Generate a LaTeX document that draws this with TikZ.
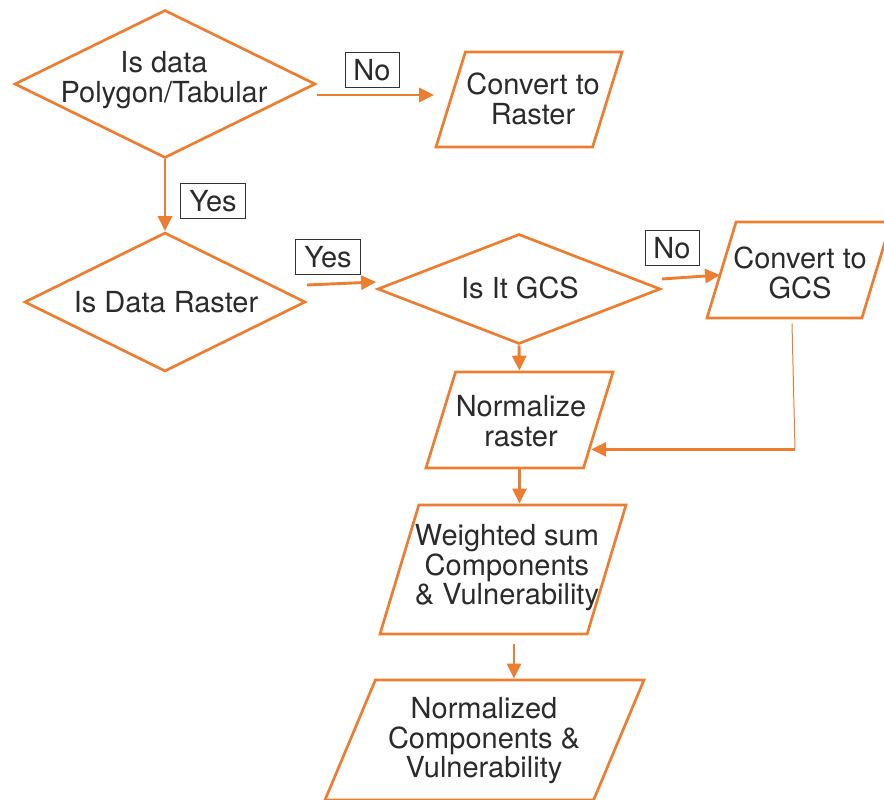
\documentclass[tikz,border=0pt]{standalone}
\usepackage{fontspec}
\setmainfont{TeX Gyre Heros}
\usepackage{xcolor}
\usepackage{tikz}
\usetikzlibrary{shapes.geometric,arrows.meta,calc}

\definecolor{flow}{HTML}{ED7D31}
\definecolor{ink}{HTML}{2B2B2B}

\tikzset{
  decision/.style={diamond, draw=flow, line width=2.7pt, inner sep=0pt},
  iobox/.style={trapezium, trapezium left angle=77, trapezium right angle=103,
    trapezium stretches=true, draw=flow, line width=2.7pt, inner sep=1pt},
  txt/.style={align=center, text=ink, font=\fontsize{29}{29.5}\selectfont},
  answer/.style={draw=black!80, line width=0.8pt, text=ink,
    font=\fontsize{29}{30}\selectfont, inner xsep=8.5pt, inner ysep=0pt,
    minimum height=35pt},
  flowarrow/.style={draw=flow, line width=2.9pt, -{Triangle[length=15pt,width=14pt]}},
}

\begin{document}
\begin{tikzpicture}[x=1pt,y=-1pt]

% page
\useasboundingbox (0,0) rectangle (884,800);

% decisions
\node[decision, minimum width=301pt, minimum height=148pt] (poly) at (165,84) {};
\node[txt] (polyt) at (164,80) {Is data\\Polygon/Tabular};
\node[decision, minimum width=281pt, minimum height=139pt] (isr) at (165,302) {};
\node[txt] (isrt) at (166,302) {Is Data Raster};
\node[decision, minimum width=283pt, minimum height=110pt] (gcs) at (519,289) {};
\node[txt] (gcst) at (520,288) {Is It GCS};

% steps
\node[iobox, minimum width=186pt, minimum height=95pt] (rast) at (529,99.5) {};
\node[txt] (rastt) at (533,99) {Convert to\\Raster};
\node[iobox, minimum width=184pt, minimum height=96pt] (cgcs) at (799,270) {};
\node[txt] (cgcst) at (800,273) {Convert to\\GCS};
\node[iobox, minimum width=187pt, minimum height=96pt] (norm) at (519.5,420) {};
\node[txt] (normt) at (521,421) {Normalize\\raster};
\node[iobox, minimum width=246pt, minimum height=129pt] (wsum) at (503,569.5) {};
\node[txt] (wsumt) at (507,568) {Weighted sum\\Components\\\& Vulnerability};
\node[iobox, minimum width=319pt, minimum height=120pt] (ncomp) at (484.5,740) {};
\node[txt] (ncompt) at (484,741) {Normalized\\Components \&\\Vulnerability};

% answers
\node[answer] (no1) at (372,70) {No};
\node[answer] (yes1) at (213,201) {Yes};
\node[answer] (yes2) at (328,257) {Yes};
\node[answer] (no2) at (672,248) {No};

% connectors
\coordinate (a1) at ([yshift=-11pt]poly.east);
\draw[flowarrow] (a1) -- (a1 -| rast.bottom left corner);
\draw[flowarrow] (poly.south) -- (isr.north);
\draw[flowarrow] ([yshift=17pt]isr.east) -- ([yshift=7pt]gcs.west);
\draw[flowarrow] ([yshift=10pt]gcs.east) -- ([yshift=-5pt]cgcs.west);
\draw[flowarrow] (gcs.south) -- (norm.north);

% back into normalize
\coordinate (b1) at ([xshift=-7pt,yshift=-4pt]cgcs.south);
\coordinate (b2) at ($(b1)+(3,126)$);
\coordinate (b3) at ($(norm.bottom right corner)!0.22!(norm.top right corner)$);
\draw[flow, line width=1pt] (b1) -- (b2);
\draw[flowarrow] (b2) -- (b2 -| b3);

\draw[flowarrow] (norm.south) -- (norm.south |- wsum.north);
\coordinate (c1) at ([xshift=11pt,yshift=-9pt]wsum.south);
\draw[flowarrow] (c1) -- (c1 |- ncomp.north);

\end{tikzpicture}
\end{document}
